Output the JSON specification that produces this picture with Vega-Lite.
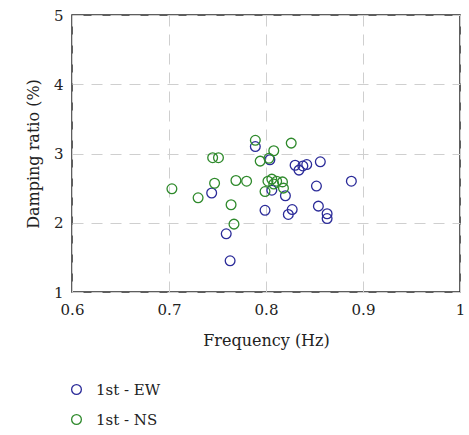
{
  "$schema": "https://vega.github.io/schema/vega-lite/v6.json",
  "width": 388,
  "height": 277,
  "autosize": {"type": "none"},
  "padding": {"left": 72, "top": 15, "right": 9, "bottom": 143},
  "background": "white",
  "config": {
    "font": "DejaVu Serif",
    "view": {"stroke": "#2a2a2a", "strokeWidth": 1.5},
    "axis": {
      "labelFont": "DejaVu Serif",
      "titleFont": "DejaVu Serif",
      "labelFontSize": 15,
      "titleFontSize": 16,
      "titleFontWeight": "normal",
      "labelColor": "#222222",
      "titleColor": "#222222",
      "domain": false,
      "ticks": false,
      "gridColor": "#cfcfcf",
      "gridDash": [11, 8],
      "gridWidth": 1
    }
  },
  "data": {
    "values": [
      {"f": 0.763, "d": 1.45, "s": "1st - EW"},
      {"f": 0.759, "d": 1.84, "s": "1st - EW"},
      {"f": 0.744, "d": 2.43, "s": "1st - EW"},
      {"f": 0.789, "d": 3.10, "s": "1st - EW"},
      {"f": 0.799, "d": 2.18, "s": "1st - EW"},
      {"f": 0.804, "d": 2.91, "s": "1st - EW"},
      {"f": 0.806, "d": 2.47, "s": "1st - EW"},
      {"f": 0.820, "d": 2.39, "s": "1st - EW"},
      {"f": 0.823, "d": 2.12, "s": "1st - EW"},
      {"f": 0.827, "d": 2.19, "s": "1st - EW"},
      {"f": 0.830, "d": 2.83, "s": "1st - EW"},
      {"f": 0.834, "d": 2.76, "s": "1st - EW"},
      {"f": 0.838, "d": 2.82, "s": "1st - EW"},
      {"f": 0.842, "d": 2.84, "s": "1st - EW"},
      {"f": 0.856, "d": 2.88, "s": "1st - EW"},
      {"f": 0.852, "d": 2.53, "s": "1st - EW"},
      {"f": 0.854, "d": 2.24, "s": "1st - EW"},
      {"f": 0.863, "d": 2.13, "s": "1st - EW"},
      {"f": 0.863, "d": 2.06, "s": "1st - EW"},
      {"f": 0.888, "d": 2.60, "s": "1st - EW"},
      {"f": 0.703, "d": 2.49, "s": "1st - NS"},
      {"f": 0.730, "d": 2.36, "s": "1st - NS"},
      {"f": 0.747, "d": 2.57, "s": "1st - NS"},
      {"f": 0.745, "d": 2.94, "s": "1st - NS"},
      {"f": 0.751, "d": 2.94, "s": "1st - NS"},
      {"f": 0.764, "d": 2.26, "s": "1st - NS"},
      {"f": 0.767, "d": 1.98, "s": "1st - NS"},
      {"f": 0.769, "d": 2.61, "s": "1st - NS"},
      {"f": 0.780, "d": 2.60, "s": "1st - NS"},
      {"f": 0.789, "d": 3.19, "s": "1st - NS"},
      {"f": 0.794, "d": 2.89, "s": "1st - NS"},
      {"f": 0.808, "d": 3.04, "s": "1st - NS"},
      {"f": 0.803, "d": 2.93, "s": "1st - NS"},
      {"f": 0.826, "d": 3.15, "s": "1st - NS"},
      {"f": 0.802, "d": 2.60, "s": "1st - NS"},
      {"f": 0.806, "d": 2.63, "s": "1st - NS"},
      {"f": 0.808, "d": 2.56, "s": "1st - NS"},
      {"f": 0.817, "d": 2.59, "s": "1st - NS"},
      {"f": 0.818, "d": 2.50, "s": "1st - NS"},
      {"f": 0.799, "d": 2.45, "s": "1st - NS"},
      {"f": 0.811, "d": 2.60, "s": "1st - NS"}
    ]
  },
  "mark": {"type": "point", "shape": "circle", "filled": false, "size": 95, "strokeWidth": 1.3, "opacity": 1},
  "encoding": {
    "x": {
      "field": "f", "type": "quantitative",
      "scale": {"domain": [0.6, 1.0], "nice": false, "zero": false},
      "axis": {"title": "Frequency (Hz)", "values": [0.6, 0.7, 0.8, 0.9, 1.0], "format": "~g", "labelPadding": 10, "titlePadding": 15, "labelFlush": false}
    },
    "y": {
      "field": "d", "type": "quantitative",
      "scale": {"domain": [1, 5], "nice": false, "zero": false},
      "axis": {"title": "Damping ratio (%)", "values": [1, 2, 3, 4, 5], "labelPadding": 9, "titlePadding": 12, "labelFlush": false}
    },
    "color": {
      "field": "s", "type": "nominal",
      "scale": {"domain": ["1st - EW", "1st - NS"], "range": ["#2b2b99", "#2f8a2c"]},
      "legend": {
        "title": null, "orient": "none", "legendX": -3, "legendY": 367,
        "direction": "vertical", "labelFontSize": 15, "labelFont": "DejaVu Serif",
        "labelColor": "#222222", "symbolSize": 95, "symbolStrokeWidth": 1.3,
        "symbolType": "circle", "rowPadding": 14, "labelOffset": 12
      }
    }
  }
}
